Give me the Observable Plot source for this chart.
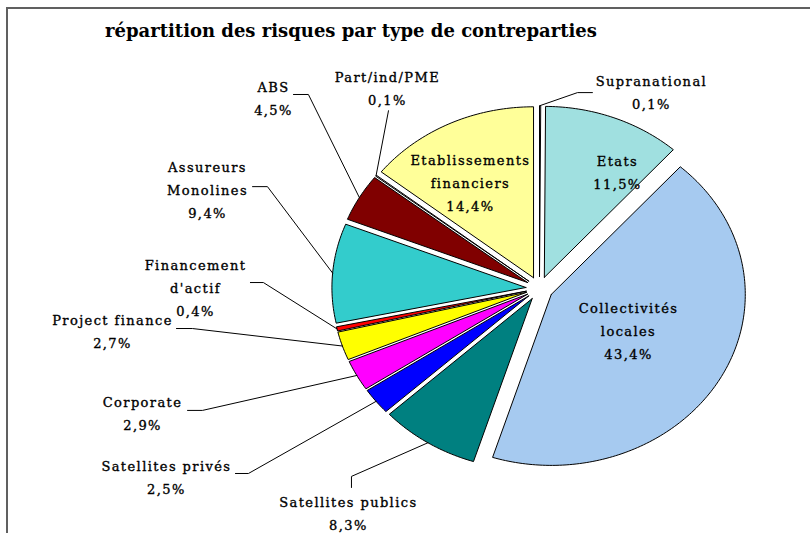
<!DOCTYPE html>
<html><head><meta charset="utf-8">
<script src="https://cdn.jsdelivr.net/npm/d3@7"></script>
<script src="https://cdn.jsdelivr.net/npm/@observablehq/plot@0.6"></script>
<style>
html,body{margin:0;padding:0;background:#fff;overflow:hidden;width:810px;height:533px;}
#wrap{position:relative;width:810px;height:533px;overflow:hidden;}
#title{box-sizing:border-box;height:48px;padding:20px 0 0 105px;font-family:"DejaVu Serif";font-weight:bold;font-size:18px;line-height:21px;white-space:nowrap;color:#000;}
#frame{position:absolute;left:6px;top:7px;width:900px;height:700px;border-left:2px solid #606060;border-top:2px solid #606060;pointer-events:none;}
</style></head><body>
<div id="wrap"><div id="title">répartition des risques par type de contreparties</div><div id="chart"></div><div id="frame"></div></div>
<script>
const categories = ["Supranational", "Etats", "Collectivités locales", "Satellites publics", "Satellites privés", "Corporate", "Project finance", "Financement d'actif", "Assureurs Monolines", "ABS", "Part/ind/PME", "Etablissements financiers"];
const values = [0.1, 11.5, 43.4, 8.3, 2.5, 2.9, 2.7, 0.4, 9.4, 4.5, 0.1, 14.4];
const colors = ["#FFFFFF", "#A0E0E0", "#A6CAF0", "#008080", "#0000FF", "#FF00FF", "#FFFF00", "#FF0000", "#33CCCC", "#800000", "#C0C0C0", "#FFFF99"];

// label layout (in pie-radius units, relative to pie centre)
const labelLayout = [
  {x: 0.577, y: 1.161, inside: false, wrap: false, leader: [[0.273, 1.146], [0.196, 1.146]]},
  {x: 0.402, y: 0.693, inside: true, wrap: false},
  {x: 0.459, y: -0.234, inside: true, wrap: true},
  {x: -0.985, y: -1.300, inside: false, wrap: false, leader: [[-0.969, -1.164], [-0.969, -1.099]]},
  {x: -1.923, y: -1.091, inside: false, wrap: false, leader: [[-1.567, -1.082], [-1.5, -1.082]]},
  {x: -2.046, y: -0.719, inside: false, wrap: false, leader: [[-1.814, -0.713], [-1.737, -0.713]]},
  {x: -2.201, y: -0.237, inside: false, wrap: false, leader: [[-1.871, -0.234], [-1.789, -0.234]]},
  {x: -1.773, y: 0.018, inside: false, wrap: true, leader: [[-1.490, 0.035], [-1.423, 0.035]]},
  {x: -1.711, y: 0.591, inside: false, wrap: true, leader: [[-1.479, 0.596], [-1.402, 0.596]]},
  {x: -1.371, y: 1.126, inside: false, wrap: false, leader: [[-1.268, 1.135], [-1.191, 1.135]]},
  {x: -0.784, y: 1.184, inside: false, wrap: false, leader: [[-0.778, 1.041], [-0.778, 1.041]]},
  {x: -0.356, y: 0.632, inside: true, wrap: true}
];

const EXPLODE = 0.07;
const fmt = v => d3.format(".1f")(v).replace(".", ",") + "%";
const arcs = d3.pie().sort(null).value(d => d)(values);

const slicePts = [];
const leaderPts = [];
const labels = [];
arcs.forEach((a, i) => {
  const mid = (a.startAngle + a.endAngle) / 2;
  const ox = EXPLODE * Math.sin(mid), oy = EXPLODE * Math.cos(mid);
  slicePts.push({i, x: ox, y: oy});
  const n = Math.max(2, Math.ceil((a.endAngle - a.startAngle) / (Math.PI / 180)));
  for (let k = 0; k <= n; k++) {
    const t = a.startAngle + (a.endAngle - a.startAngle) * k / n;
    slicePts.push({i, x: ox + Math.sin(t), y: oy + Math.cos(t)});
  }
  slicePts.push({i, x: ox, y: oy});
  const L = labelLayout[i];
  const name = L.wrap ? categories[i].replace(" ", "\n") : categories[i];
  labels.push({x: L.x, y: L.y, text: name + "\n" + fmt(values[i])});
  if (L.leader) {
    leaderPts.push({i, x: L.leader[0][0], y: L.leader[0][1]});
    leaderPts.push({i, x: L.leader[1][0], y: L.leader[1][1]});
    leaderPts.push({i, x: (1 + EXPLODE) * Math.sin(mid), y: (1 + EXPLODE) * Math.cos(mid)});
  }
});

const chart = Plot.plot({
  width: 810,
  height: 485,
  margin: 0,
  x: {domain: [-2.778, 1.397], axis: null},
  y: {domain: [-1.433, 1.404], axis: null},
  color: {type: "identity"},
  style: {background: "transparent", fontFamily: "DejaVu Serif", letterSpacing: "1.4px", color: "#000"},
  marks: [
    Plot.line(slicePts, {x: "x", y: "y", z: "i", fill: d => colors[d.i], stroke: "#000", strokeWidth: 1, curve: "linear", strokeLinejoin: "miter"}),
    Plot.line(leaderPts, {x: "x", y: "y", z: "i", stroke: "#000", strokeWidth: 1, curve: "linear"}),
    Plot.text(labels, {x: "x", y: "y", text: "text", textAnchor: "middle", lineAnchor: "middle", lineHeight: 1.77, fontSize: 13, fill: "#000", stroke: "#000", strokeWidth: 0.35})
  ]
});
document.getElementById("chart").appendChild(chart);
</script>
</body></html>
